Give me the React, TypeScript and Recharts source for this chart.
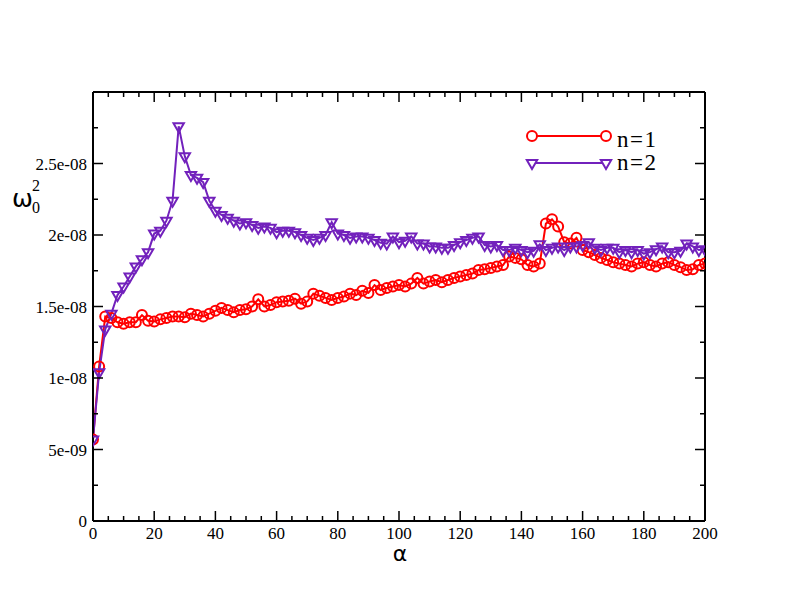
import React from 'react';
import { LineChart, Line, XAxis, YAxis, Legend } from 'recharts';

// alpha values (x categories)
const alphaValues = [
  0, 2, 4, 6, 8, 10, 12, 14, 16, 18, 20, 22, 24, 26, 28, 30, 32, 34, 36, 38,
  40, 42, 44, 46, 48, 50, 52, 54, 56, 58, 60, 62, 64, 66, 68, 70, 72, 74, 76, 78,
  80, 82, 84, 86, 88, 90, 92, 94, 96, 98, 100, 102, 104, 106, 108, 110, 112, 114, 116, 118,
  120, 122, 124, 126, 128, 130, 132, 134, 136, 138, 140, 142, 144, 146, 148, 150, 152, 154, 156, 158,
  160, 162, 164, 166, 168, 170, 172, 174, 176, 178, 180, 182, 184, 186, 188, 190, 192, 194, 196, 198, 200,
];

// omega_0^2 in units of 1e-9, n=1
const seriesN1 = [
  5.7, 10.8, 14.3, 14.2, 13.9, 13.8, 13.9, 13.9, 14.4, 14.0, 13.95, 14.1, 14.2, 14.3, 14.3, 14.25, 14.5, 14.4, 14.3, 14.5,
  14.7, 14.9, 14.75, 14.6, 14.75, 14.8, 15.0, 15.5, 15.0, 15.1, 15.3, 15.35, 15.4, 15.55, 15.2, 15.35, 15.9, 15.75, 15.6, 15.45,
  15.6, 15.7, 15.9, 15.8, 16.1, 15.95, 16.5, 16.15, 16.3, 16.4, 16.5, 16.4, 16.6, 17.0, 16.6, 16.75, 16.85, 16.7, 16.85, 17.0,
  17.1, 17.2, 17.3, 17.55, 17.6, 17.7, 17.8, 17.9, 18.5, 18.4, 18.3, 17.9, 17.8, 18.0, 20.8, 21.1, 20.6, 19.5, 19.4, 19.8,
  18.95, 18.8, 18.6, 18.4, 18.25, 18.1, 18.0, 17.9, 17.8, 18.0, 18.1, 17.9, 17.8, 18.0, 18.1, 17.9, 17.75, 17.55, 17.6, 17.9, 18.0,
];

// omega_0^2 in units of 1e-9, n=2
const seriesN2 = [
  5.7, 10.4, 13.4, 14.5, 15.8, 16.4, 17.1, 17.8, 18.3, 18.8, 20.1, 20.3, 21.0, 22.4, 27.6, 25.5, 24.2, 24.0, 23.7, 22.4,
  21.7, 21.4, 21.2, 21.0, 20.8, 20.9, 20.7, 20.5, 20.6, 20.5, 20.2, 20.3, 20.3, 20.2, 20.0, 19.8, 19.65, 19.8, 20.0, 20.9,
  20.1, 20.0, 19.8, 19.9, 19.9, 19.8, 19.65, 19.45, 19.4, 19.9, 19.5, 19.6, 19.9, 19.4, 19.4, 19.2, 19.2, 19.1, 19.1, 19.3,
  19.5, 19.65, 19.8, 19.9, 19.3, 19.2, 19.3, 18.95, 18.95, 19.1, 18.95, 18.8, 18.9, 19.35, 18.95, 19.1, 19.2, 18.95, 19.2, 19.2,
  19.3, 19.5, 19.1, 18.95, 19.1, 19.1, 18.8, 18.95, 18.8, 18.95, 18.7, 18.8, 19.0, 19.2, 18.8, 18.8, 18.9, 19.4, 19.2, 18.95, 19.0,
];

const xMajorTicks = [0, 20, 40, 60, 80, 100, 120, 140, 160, 180, 200];
const xAllTicks = [
  0, 5, 10, 15, 20, 25, 30, 35, 40, 45, 50, 55, 60, 65, 70, 75, 80, 85, 90, 95, 100,
  105, 110, 115, 120, 125, 130, 135, 140, 145, 150, 155, 160, 165, 170, 175, 180, 185, 190, 195, 200,
];
const yMajorTicks = [0, 5, 10, 15, 20, 25, 30];
const yTickLabels = ['0', '5e-09', '1e-08', '1.5e-08', '2e-08', '2.5e-08', ''];
const yAllTicks = [0, 2.5, 5, 7.5, 10, 12.5, 15, 17.5, 20, 22.5, 25, 27.5, 30];

const seriesNames = ['n=1', 'n=2'];
const RED = '#ff0000';
const INDIGO = '#7221bc';

const data = alphaValues.map((a, i) => ({ a, n1: seriesN1[i], n2: seriesN2[i] }));

const MAJOR = 10;
const MINOR = 5;
const TICK_W = 1.5;
const FONT = '"Liberation Serif", "Times New Roman", Times, serif';
const SANS = '"DejaVu Sans", sans-serif';

const BottomTick = (props: any) => {
  const { x, y, payload } = props;
  const major = xMajorTicks.includes(payload.value);
  return (
    <g>
      <line x1={x} y1={y} x2={x} y2={y - (major ? MAJOR : MINOR)} stroke="#000" strokeWidth={TICK_W} />
      {major && (
        <text x={x} y={y + 18} textAnchor="middle" style={{ fontFamily: FONT, fontSize: 17 }} fill="#000">
          {payload.value}
        </text>
      )}
    </g>
  );
};

const TopTick = (props: any) => {
  const { x, y, payload } = props;
  const major = xMajorTicks.includes(payload.value);
  return <line x1={x} y1={y} x2={x} y2={y + (major ? MAJOR : MINOR)} stroke="#000" strokeWidth={TICK_W} />;
};

const LeftTick = (props: any) => {
  const { x, y, payload } = props;
  const mi = yMajorTicks.indexOf(payload.value);
  const major = mi >= 0;
  return (
    <g>
      <line x1={x} y1={y} x2={x + (major ? MAJOR : MINOR)} y2={y} stroke="#000" strokeWidth={TICK_W} />
      {major && yTickLabels[mi] !== '' && (
        <text x={x - 6} y={y + 6} textAnchor="end" style={{ fontFamily: FONT, fontSize: 17 }} fill="#000">
          {yTickLabels[mi]}
        </text>
      )}
    </g>
  );
};

const RightTick = (props: any) => {
  const { x, y, payload } = props;
  const major = yMajorTicks.includes(payload.value);
  return <line x1={x} y1={y} x2={x - (major ? MAJOR : MINOR)} y2={y} stroke="#000" strokeWidth={TICK_W} />;
};

const CircleDot = (props: any) => {
  const { cx, cy, index } = props;
  if (cx == null || cy == null) return <g key={`c${index}`} />;
  return <circle key={`c${index}`} cx={cx} cy={cy} r={5} fill="none" stroke={RED} strokeWidth={2} />;
};

const triPoints = (cx: number, cy: number, r: number) =>
  `${cx - r * 0.866},${cy - r * 0.5} ${cx + r * 0.866},${cy - r * 0.5} ${cx},${cy + r}`;

const TriDot = (props: any) => {
  const { cx, cy, index } = props;
  if (cx == null || cy == null) return <g key={`t${index}`} />;
  return <polygon key={`t${index}`} points={triPoints(cx, cy, 6)} fill="none" stroke={INDIGO} strokeWidth={2} />;
};

const LegendContent = () => (
  <svg width={160} height={56} style={{ display: 'block' }}>
    <line x1={12} y1={13} x2={86} y2={13} stroke={RED} strokeWidth={2} />
    <circle cx={12} cy={13} r={5} fill="#fff" stroke={RED} strokeWidth={2} />
    <circle cx={86} cy={13} r={5} fill="#fff" stroke={RED} strokeWidth={2} />
    <text x={97} y={24} style={{ fontFamily: FONT, fontSize: 23, letterSpacing: 1.5 }} fill="#000">{seriesNames[0]}</text>
    <line x1={12} y1={40} x2={86} y2={40} stroke={INDIGO} strokeWidth={2} />
    <polygon points={triPoints(12, 40, 6)} fill="#fff" stroke={INDIGO} strokeWidth={2} />
    <polygon points={triPoints(86, 40, 6)} fill="#fff" stroke={INDIGO} strokeWidth={2} />
    <text x={97} y={47} style={{ fontFamily: FONT, fontSize: 23, letterSpacing: 1.5 }} fill="#000">{seriesNames[1]}</text>
  </svg>
);

const XLabel = () => (
  <text x={400} y={561} textAnchor="middle" style={{ fontFamily: SANS, fontSize: 22 }} fill="#000">α</text>
);

const YLabel = () => (
  <g>
    <text x={12} y={207} style={{ fontFamily: SANS, fontSize: 25 }} fill="#000">ω</text>
    <text x={32} y={191} style={{ fontFamily: FONT, fontSize: 16 }} fill="#000">2</text>
    <text x={32} y={213} style={{ fontFamily: FONT, fontSize: 16 }} fill="#000">0</text>
  </g>
);

export default function App() {
  return (
    <div style={{ position: 'absolute', left: 0, top: 0, width: 792, height: 612, background: '#fff' }}>
      <LineChart width={792} height={612} data={data} margin={{ top: 91, right: 86, bottom: 90, left: 92 }}>
        <XAxis
          xAxisId="b"
          dataKey="a"
          type="number"
          domain={[0, 200]}
          ticks={xAllTicks}
          interval={0}
          height={1}
          tickSize={0}
          tickMargin={0}
          tickLine={false}
          tick={<BottomTick />}
          axisLine={{ stroke: '#000', strokeWidth: 2 }}
          label={{ content: <XLabel /> }}
          allowDataOverflow
        />
        <XAxis
          xAxisId="t"
          orientation="top"
          dataKey="a"
          type="number"
          domain={[0, 200]}
          ticks={xAllTicks}
          interval={0}
          height={1}
          tickSize={0}
          tickMargin={0}
          tickLine={false}
          tick={<TopTick />}
          axisLine={{ stroke: '#000', strokeWidth: 2 }}
          allowDataOverflow
        />
        <YAxis
          yAxisId="l"
          type="number"
          domain={[0, 30]}
          ticks={yAllTicks}
          interval={0}
          width={1}
          tickSize={0}
          tickMargin={0}
          tickLine={false}
          tick={<LeftTick />}
          axisLine={{ stroke: '#000', strokeWidth: 2 }}
          label={{ content: <YLabel /> }}
          allowDataOverflow
        />
        <YAxis
          yAxisId="r"
          orientation="right"
          type="number"
          domain={[0, 30]}
          ticks={yAllTicks}
          interval={0}
          width={1}
          tickSize={0}
          tickMargin={0}
          tickLine={false}
          tick={<RightTick />}
          axisLine={{ stroke: '#000', strokeWidth: 2 }}
          allowDataOverflow
        />
        <Legend
          layout="horizontal"
          verticalAlign="middle"
          align="center"
          content={<LegendContent />}
          wrapperStyle={{ position: 'absolute', left: 520, top: 123, width: 160, height: 56 }}
        />
        <Line
          xAxisId="b"
          yAxisId="l"
          dataKey="n1"
          name={seriesNames[0]}
          stroke={RED}
          strokeWidth={2}
          dot={CircleDot}
          activeDot={false}
          isAnimationActive={false}
        />
        <Line
          xAxisId="b"
          yAxisId="l"
          dataKey="n2"
          name={seriesNames[1]}
          stroke={INDIGO}
          strokeWidth={2}
          dot={TriDot}
          activeDot={false}
          isAnimationActive={false}
        />
      </LineChart>
    </div>
  );
}
